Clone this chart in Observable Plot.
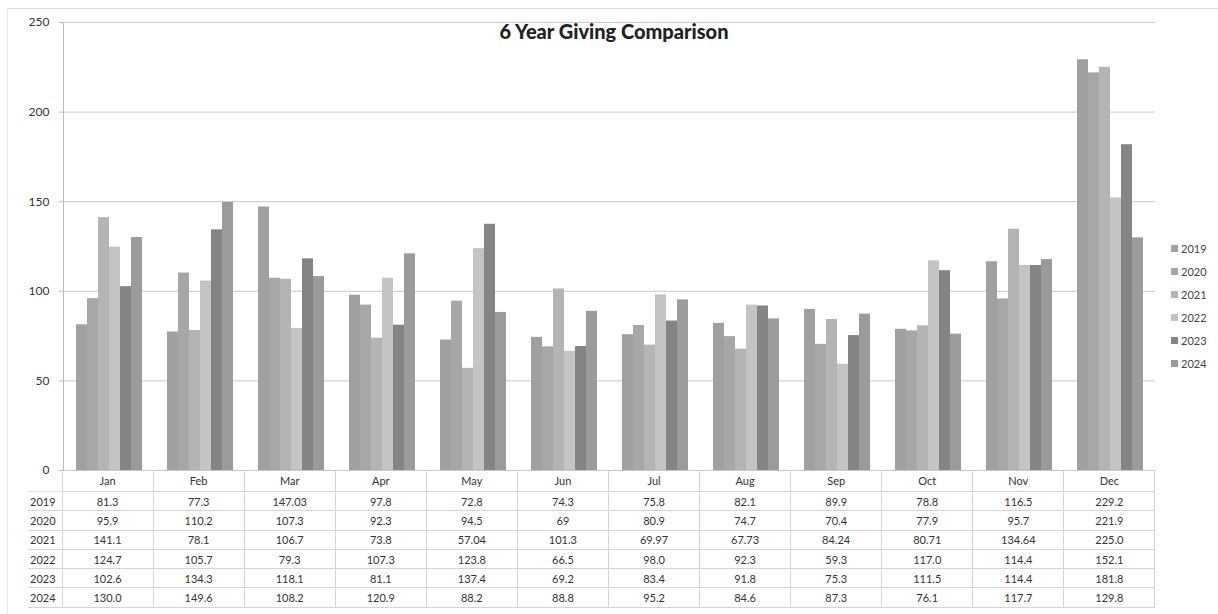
<!DOCTYPE html>
<html>
<head>
<meta charset="utf-8">
<script src="https://cdn.jsdelivr.net/npm/d3@7"></script>
<script src="https://cdn.jsdelivr.net/npm/@observablehq/plot@0.6"></script>
<style>
  html, body { margin: 0; padding: 0; background: #fff; }
  body { font-family: Lato, "Open Sans", sans-serif; color: #333; }
  #wrap { position: relative; width: 1218px; height: 614px; overflow: hidden; }
  #border { position: absolute; left: 7px; top: 8px; right: 0; bottom: 0; border-top: 1px solid #dcdcdc; border-left: 1px solid #e6e6e6; }
  #chart { position: absolute; left: 0; top: 0; }
  #title { position: absolute; left: 0; width: 1228px; top: 19px; text-align: center; font-weight: 900; font-size: 20px; color: #222; }
  #legend { position: absolute; left: 1171px; top: 237px; font-size: 11px; color: #444; }
  #legend .item { height: 23px; display: flex; align-items: center; }
  #legend .sw { width: 7px; height: 7px; margin-right: 3px; }
  table { position: absolute; left: 28px; top: 470px; border-collapse: collapse; table-layout: fixed; font-size: 11px; color: #333; }
  td { height: 18.3px; padding: 0; text-align: center; border: 1px solid #d4d4d4; white-space: nowrap; }
  td.lab { text-align: left; padding-left: 2px; border-left: none; border-top: 1px solid #e4e4e4; }
  tr.head td { border-top: none; height: 21px; }
  tr.head td.lab { border: none; }
</style>
</head>
<body>
<div id="wrap">
  <div id="border"></div>
  <div id="chart"></div>
  <div id="title"></div>
  <div id="legend"></div>
  <table id="tbl"></table>
</div>
<script>
const title = "6 Year Giving Comparison";
const months = ["Jan", "Feb", "Mar", "Apr", "May", "Jun", "Jul", "Aug", "Sep", "Oct", "Nov", "Dec"];
const years = ["2019", "2020", "2021", "2022", "2023", "2024"];
const s2019 = ["81.3", "77.3", "147.03", "97.8", "72.8", "74.3", "75.8", "82.1", "89.9", "78.8", "116.5", "229.2"];
const s2020 = ["95.9", "110.2", "107.3", "92.3", "94.5", "69", "80.9", "74.7", "70.4", "77.9", "95.7", "221.9"];
const s2021 = ["141.1", "78.1", "106.7", "73.8", "57.04", "101.3", "69.97", "67.73", "84.24", "80.71", "134.64", "225.0"];
const s2022 = ["124.7", "105.7", "79.3", "107.3", "123.8", "66.5", "98.0", "92.3", "59.3", "117.0", "114.4", "152.1"];
const s2023 = ["102.6", "134.3", "118.1", "81.1", "137.4", "69.2", "83.4", "91.8", "75.3", "111.5", "114.4", "181.8"];
const s2024 = ["130.0", "149.6", "108.2", "120.9", "88.2", "88.8", "95.2", "84.6", "87.3", "76.1", "117.7", "129.8"];
const yTicks = [0, 50, 100, 150, 200, 250];
const colors = ["#a0a0a0", "#a7a7a7", "#b4b4b4", "#c4c4c4", "#848484", "#9b9b9b"];

const series = [s2019, s2020, s2021, s2022, s2023, s2024];
const data = years.flatMap((y, i) => months.map((m, j) => ({month: m, year: y, value: Number(series[i][j])})));

const W = 1160, ML = 62, MR = 5;
const chart = Plot.plot({
  width: W,
  height: 480,
  marginLeft: ML,
  marginRight: MR,
  marginTop: 22,
  marginBottom: 10,
  style: {fontFamily: "Lato, 'Open Sans', sans-serif", fontSize: "12px", color: "#333"},
  fx: {domain: months, padding: 0, axis: null},
  x: {domain: years, axis: null, paddingInner: 0, paddingOuter: 0.9},
  y: {domain: [0, 250], axis: null},
  color: {domain: years, range: colors},
  marks: [
    Plot.gridY(yTicks, {stroke: "#c8c8c8", strokeOpacity: 1}),
    Plot.barY(data, {fx: "month", x: "year", y: "value", fill: "year"}),
    Plot.axisY(yTicks, {tickSize: 4, tickPadding: 10, stroke: "#bbb", label: null, facetAnchor: "left"}),
    Plot.frame({anchor: "left", stroke: "#bbb", facetAnchor: "left"})
  ]
});
document.getElementById("chart").appendChild(chart);
document.getElementById("title").textContent = title;

const legend = document.getElementById("legend");
years.forEach((y, i) => {
  const d = document.createElement("div");
  d.className = "item";
  d.innerHTML = `<span class="sw" style="background:${colors[i]}"></span><span>${y}</span>`;
  legend.appendChild(d);
});

const colW = (W - ML - MR) / months.length;
const tbl = document.getElementById("tbl");
const cg = document.createElement("colgroup");
cg.innerHTML = `<col style="width:${ML - 28}px">` + months.map(() => `<col style="width:${colW}px">`).join("");
tbl.appendChild(cg);
const head = document.createElement("tr");
head.className = "head";
head.innerHTML = `<td class="lab"></td>` + months.map(m => `<td>${m}</td>`).join("");
tbl.appendChild(head);
years.forEach((y, i) => {
  const tr = document.createElement("tr");
  tr.innerHTML = `<td class="lab">${y}</td>` + series[i].map(v => `<td>${v}</td>`).join("");
  tbl.appendChild(tr);
});
</script>
</body>
</html>
